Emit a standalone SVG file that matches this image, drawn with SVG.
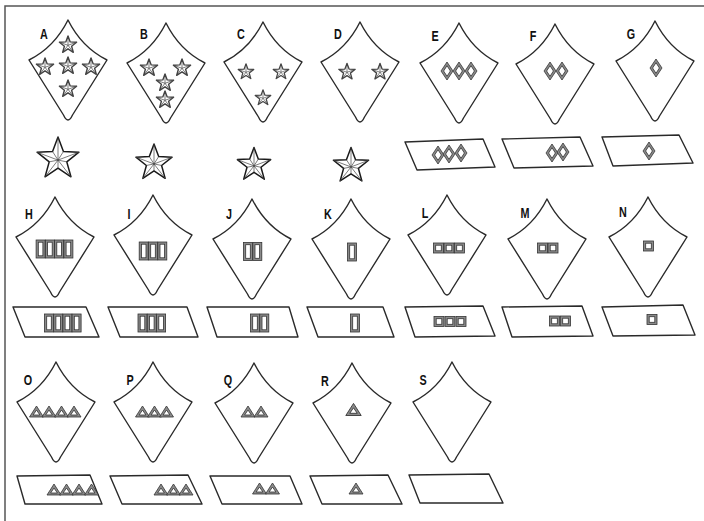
<svg xmlns="http://www.w3.org/2000/svg" xmlns:xlink="http://www.w3.org/1999/xlink" width="704" height="521" viewBox="0 0 704 521">
<style>
.frame{fill:none;stroke:#555;stroke-width:1.5}
.tab{fill:#fff;stroke:#2a2a2a;stroke-width:1.4;stroke-linejoin:round}
.para{fill:#fff;stroke:#2a2a2a;stroke-width:1.4;stroke-linejoin:round}
.lbl{font-family:"Liberation Sans",Arial,sans-serif;font-weight:bold;font-size:15px;fill:#111;text-anchor:middle}
.ins{fill:#8a8a8a;stroke:#333;stroke-width:0.8}
.insIn{fill:#fff;stroke:#333;stroke-width:0.8}
.star{fill:#fff;stroke:#1a1a1a;stroke-width:1.5;stroke-linejoin:round}
.bev{fill:none;stroke:#444;stroke-width:0.7}
.sstar{fill:#fff;stroke:#444;stroke-width:1.4;stroke-linejoin:round}
</style>
<defs>
<path id="tabshape" d="M0,0 Q-13.7,27.4 -39,40 L-4.5,95 Q0,105 4.5,95 L39,40 Q13.7,27.4 0,0 Z"/>
<g id="star">
<path class="star" vector-effect="non-scaling-stroke" d="M0,-10 L2.469,-3.398 L9.511,-3.09 L3.995,1.298 L5.878,8.09 L0,4.2 L-5.878,8.09 L-3.995,1.298 L-9.511,-3.09 L-2.469,-3.398 Z"/>
<path class="bev" vector-effect="non-scaling-stroke" d="M0,0.5 L0,-10 M0,0.5 L9.511,-3.09 M0,0.5 L5.878,8.09 M0,0.5 L-5.878,8.09 M0,0.5 L-9.511,-3.09 M0,0.5 L2.469,-3.398 M0,0.5 L3.995,1.298 M0,0.5 L0,4.2 M0,0.5 L-3.995,1.298 M0,0.5 L-2.469,-3.398"/>
</g>
<g id="sstar">
<path class="sstar" d="M0,-9 L2.2,-3.1 L8.6,-2.8 L3.6,1.2 L5.3,7.3 L0,3.8 L-5.3,7.3 L-3.6,1.2 L-8.6,-2.8 L-2.2,-3.1 Z"/>
<path class="bev" d="M0,0.3 L0,-9 M0,0.3 L8.6,-2.8 M0,0.3 L5.3,7.3 M0,0.3 L-5.3,7.3 M0,0.3 L-8.6,-2.8"/>
</g>
<g id="dia"><path class="ins" d="M0,-9 L6,0 L0,9 L-6,0 Z"/><path class="insIn" d="M0,-5.3 L3.4,0 L0,5.3 L-3.4,0 Z"/></g>
<g id="bar"><rect class="ins" x="-4.5" y="-9" width="9" height="18"/><rect class="insIn" x="-2.3" y="-6.8" width="4.6" height="13.6"/></g>
<g id="sq"><rect class="ins" x="-5" y="-5" width="10" height="10"/><rect class="insIn" x="-2.8" y="-2.8" width="5.6" height="5.6"/></g>
<g id="tri"><path class="ins" d="M0,-6 L7,5 L-7,5 Z"/><path class="insIn" d="M0,-2 L3.4,3 L-3.4,3 Z"/></g>
</defs>
<rect x="0" y="0" width="704" height="521" fill="#fff"/>
<g id="frame"><path class="frame" d="M5,521 L5,6 L704,6"/></g>

<g id="node-A">
<use href="#tabshape" class="tab" transform="translate(68,20)"/>
<text class="lbl" transform="translate(44,39) scale(0.72,1)">A</text>
<use href="#sstar" x="68" y="45"/><use href="#sstar" x="45" y="67"/><use href="#sstar" x="68" y="66"/><use href="#sstar" x="91" y="67"/><use href="#sstar" x="68" y="89"/>
<use href="#star" transform="translate(58,159) scale(2.2)"/>
</g>
<g id="node-B">
<use href="#tabshape" class="tab" transform="translate(166,23)"/>
<text class="lbl" transform="translate(144,39) scale(0.72,1)">B</text>
<use href="#sstar" x="149" y="68"/><use href="#sstar" x="182" y="68"/><use href="#sstar" x="165" y="83"/><use href="#sstar" x="165" y="100"/>
<use href="#star" transform="translate(154,163) scale(1.9)"/>
</g>
<g id="node-C">
<use href="#tabshape" class="tab" transform="translate(263,22)"/>
<text class="lbl" transform="translate(241,39) scale(0.72,1)">C</text>
<use href="#sstar" transform="translate(246,72) scale(0.9)"/><use href="#sstar" transform="translate(281,72) scale(0.9)"/><use href="#sstar" transform="translate(263,98) scale(0.9)"/>
<use href="#star" transform="translate(254,165) scale(1.75)"/>
</g>
<g id="node-D">
<use href="#tabshape" class="tab" transform="translate(360,22)"/>
<text class="lbl" transform="translate(338,39) scale(0.72,1)">D</text>
<use href="#sstar" transform="translate(347,72) scale(0.95)"/><use href="#sstar" transform="translate(380,72) scale(0.95)"/>
<use href="#star" transform="translate(351,166) scale(1.85)"/>
</g>
<g id="node-E">
<use href="#tabshape" class="tab" transform="translate(459,23)"/>
<text class="lbl" transform="translate(435,41) scale(0.72,1)">E</text>
<use href="#dia" x="447" y="71"/><use href="#dia" x="459" y="71"/><use href="#dia" x="471" y="71"/>
<path class="para" d="M405,142 L483,139 L495,167 L417,170 Z"/>
<use href="#dia" x="438" y="155"/><use href="#dia" x="449" y="154"/><use href="#dia" x="461" y="153"/>
</g>
<g id="node-F">
<use href="#tabshape" class="tab" transform="translate(555,24)"/>
<text class="lbl" transform="translate(533,41) scale(0.72,1)">F</text>
<use href="#dia" x="550" y="71"/><use href="#dia" x="562" y="71"/>
<path class="para" d="M502,139 L580,137 L593,166 L514,168 Z"/>
<use href="#dia" x="552" y="153"/><use href="#dia" x="563" y="152"/>
</g>
<g id="node-G">
<use href="#tabshape" class="tab" transform="translate(655,21)"/>
<text class="lbl" transform="translate(631,39) scale(0.72,1)">G</text>
<use href="#dia" x="656" y="68"/>
<path class="para" d="M602,137 L679,135 L693,163 L613,166 Z"/>
<use href="#dia" x="649" y="151"/>
</g>

<g id="node-H">
<use href="#tabshape" class="tab" transform="translate(55,197)"/>
<text class="lbl" transform="translate(29,219) scale(0.72,1)">H</text>
<use href="#bar" x="40.6" y="249"/><use href="#bar" x="49.9" y="249"/><use href="#bar" x="59.1" y="249"/><use href="#bar" x="68.4" y="249"/>
<path class="para" d="M13,307 L86,307 L99,337 L25,337 Z"/>
<use href="#bar" x="49" y="323"/><use href="#bar" x="58.2" y="323"/><use href="#bar" x="67.4" y="323"/><use href="#bar" x="76.6" y="323"/>
</g>
<g id="node-I">
<use href="#tabshape" class="tab" transform="translate(153,195)"/>
<text class="lbl" transform="translate(129,219) scale(0.72,1)">I</text>
<use href="#bar" x="143.7" y="251"/><use href="#bar" x="153" y="251"/><use href="#bar" x="162.3" y="251"/>
<path class="para" d="M108,307 L187,307 L198,337 L120,337 Z"/>
<use href="#bar" x="142.5" y="323"/><use href="#bar" x="151.8" y="323"/><use href="#bar" x="161.1" y="323"/>
</g>
<g id="node-J">
<use href="#tabshape" class="tab" transform="translate(252,199)"/>
<text class="lbl" transform="translate(229,219) scale(0.72,1)">J</text>
<use href="#bar" x="248" y="251.5"/><use href="#bar" x="257.3" y="251.5"/>
<path class="para" d="M207,307 L289,307 L298,337 L217,337 Z"/>
<use href="#bar" x="255" y="323"/><use href="#bar" x="264.3" y="323"/>
</g>
<g id="node-K">
<use href="#tabshape" class="tab" transform="translate(351,199)"/>
<text class="lbl" transform="translate(328,219) scale(0.72,1)">K</text>
<use href="#bar" x="352" y="252"/>
<path class="para" d="M307,307 L383,307 L394,337 L318,337 Z"/>
<use href="#bar" x="355" y="323"/>
</g>
<g id="node-L">
<use href="#tabshape" class="tab" transform="translate(447,195)"/>
<text class="lbl" transform="translate(425,218) scale(0.72,1)">L</text>
<use href="#sq" x="438.5" y="248"/><use href="#sq" x="449" y="248"/><use href="#sq" x="459.5" y="248"/>
<path class="para" d="M405,307 L483,306 L495,336 L415,337 Z"/>
<use href="#sq" x="439" y="321.5"/><use href="#sq" x="450" y="321.5"/><use href="#sq" x="461" y="321.5"/>
</g>
<g id="node-M">
<use href="#tabshape" class="tab" transform="translate(547,199)"/>
<text class="lbl" transform="translate(525,218) scale(0.72,1)">M</text>
<use href="#sq" x="542.5" y="248"/><use href="#sq" x="553" y="248"/>
<path class="para" d="M502,307 L582,306 L593,336 L512,337 Z"/>
<use href="#sq" x="554.5" y="321"/><use href="#sq" x="565.5" y="321"/>
</g>
<g id="node-N">
<use href="#tabshape" class="tab" transform="translate(648,197)"/>
<text class="lbl" transform="translate(623,217) scale(0.72,1)">N</text>
<use href="#sq" x="648.5" y="246"/>
<path class="para" d="M602,307 L683,305 L695,335 L613,336 Z"/>
<use href="#sq" x="652" y="319.5"/>
</g>

<g id="node-O">
<use href="#tabshape" class="tab" transform="translate(56,362)"/>
<text class="lbl" transform="translate(28,385) scale(0.72,1)">O</text>
<use href="#tri" x="36.5" y="412"/><use href="#tri" x="49" y="412"/><use href="#tri" x="61.5" y="412"/><use href="#tri" x="74" y="412"/>
<path class="para" d="M17,476 L90,475 L102,504 L25,504 Z"/>
<use href="#tri" x="54" y="490"/><use href="#tri" x="66.5" y="490"/><use href="#tri" x="79" y="490"/><use href="#tri" x="91.5" y="490"/>
</g>
<g id="node-P">
<use href="#tabshape" class="tab" transform="translate(153,362)"/>
<text class="lbl" transform="translate(130,385) scale(0.72,1)">P</text>
<use href="#tri" x="142.5" y="412"/><use href="#tri" x="154.5" y="412"/><use href="#tri" x="166.5" y="412"/>
<path class="para" d="M110,476 L188,475 L202,504 L122,504 Z"/>
<use href="#tri" x="161" y="490"/><use href="#tri" x="173.5" y="490"/><use href="#tri" x="186" y="490"/>
</g>
<g id="node-Q">
<use href="#tabshape" class="tab" transform="translate(254,363)"/>
<text class="lbl" transform="translate(228,385) scale(0.72,1)">Q</text>
<use href="#tri" x="248" y="412"/><use href="#tri" x="261" y="412"/>
<path class="para" d="M210,476 L290,476 L302,504 L222,504 Z"/>
<use href="#tri" x="259.5" y="489"/><use href="#tri" x="272.5" y="489"/>
</g>
<g id="node-R">
<use href="#tabshape" class="tab" transform="translate(352,363)"/>
<text class="lbl" transform="translate(325,386) scale(0.72,1)">R</text>
<use href="#tri" transform="translate(353.5,410) scale(1.1)"/>
<path class="para" d="M310,476 L388,475 L402,504 L322,504 Z"/>
<use href="#tri" x="356" y="489"/>
</g>
<g id="node-S">
<use href="#tabshape" class="tab" transform="translate(452,362)"/>
<text class="lbl" transform="translate(423,385) scale(0.72,1)">S</text>
<path class="para" d="M409,475 L489,474 L503,503 L420,503 Z"/>
</g>
<g id="connectors"></g>
</svg>
